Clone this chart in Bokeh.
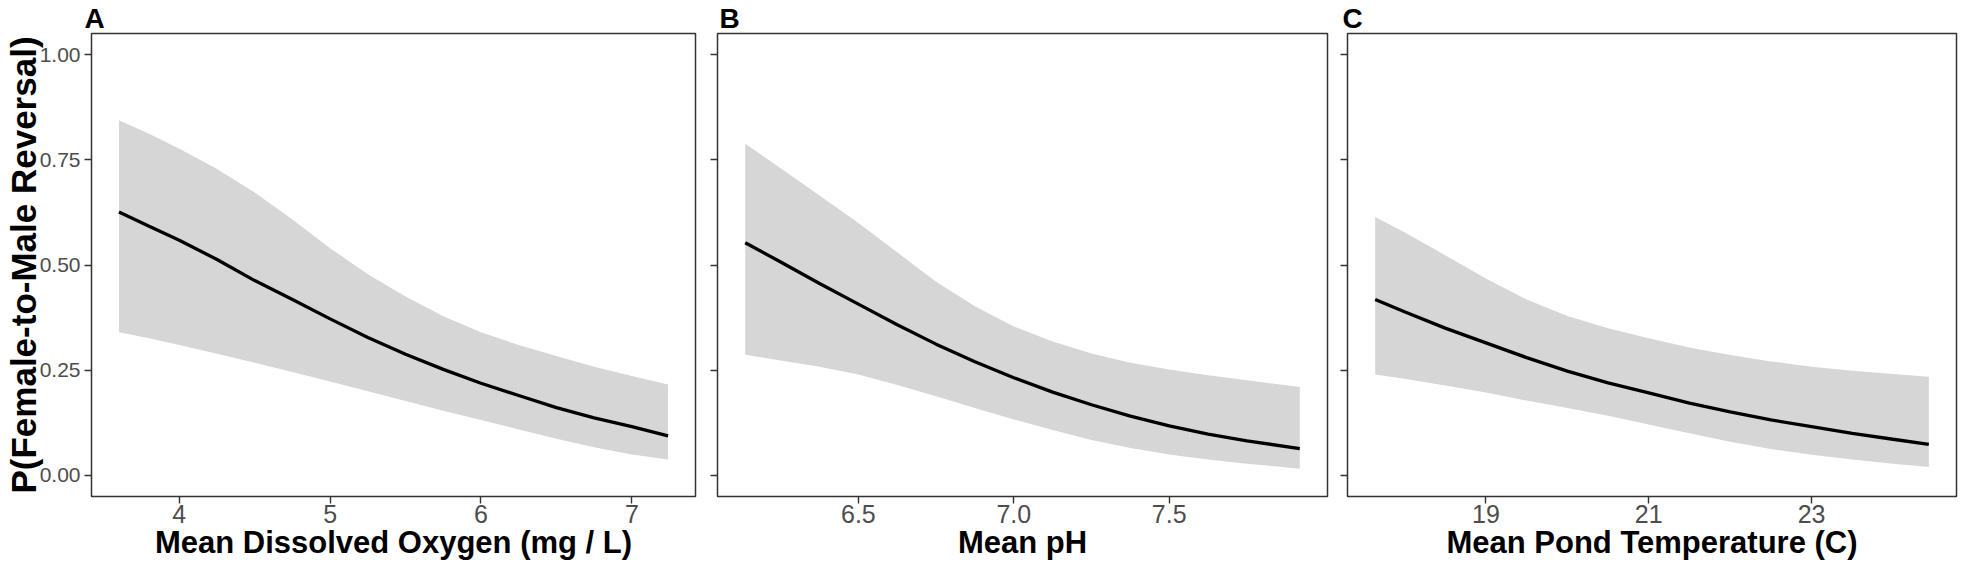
from bokeh.plotting import figure
from bokeh.layouts import row
from bokeh.models import FixedTicker, Range1d, NumeralTickFormatter, CustomJSTickFormatter
from bokeh.embed import file_html
from bokeh.resources import INLINE

# ---------------- data ----------------
y_ticks = [0.0, 0.25, 0.5, 0.75, 1.0]

# Panel A: dissolved oxygen
do_x = [3.60, 3.80, 4.00, 4.25, 4.50, 4.75, 5.00, 5.25, 5.50, 5.75, 6.00, 6.25, 6.50, 6.75, 7.00, 7.24]
do_fit = [0.626, 0.592, 0.559, 0.513, 0.463, 0.418, 0.372, 0.328, 0.288, 0.252, 0.219, 0.190, 0.161, 0.137, 0.116, 0.094]
do_hi = [0.844, 0.812, 0.776, 0.728, 0.672, 0.608, 0.540, 0.478, 0.425, 0.378, 0.340, 0.310, 0.284, 0.258, 0.236, 0.216]
do_lo = [0.340, 0.326, 0.310, 0.289, 0.268, 0.246, 0.223, 0.200, 0.177, 0.154, 0.132, 0.109, 0.087, 0.067, 0.050, 0.038]
do_ticks = [4, 5, 6, 7]

# Panel B: pH
ph_x = [6.136, 6.25, 6.375, 6.5, 6.625, 6.75, 6.875, 7.0, 7.125, 7.25, 7.375, 7.5, 7.625, 7.75, 7.92]
ph_fit = [0.553, 0.507, 0.456, 0.407, 0.358, 0.312, 0.270, 0.232, 0.198, 0.168, 0.141, 0.118, 0.098, 0.082, 0.064]
ph_hi = [0.788, 0.730, 0.665, 0.600, 0.530, 0.460, 0.402, 0.354, 0.318, 0.290, 0.268, 0.252, 0.238, 0.226, 0.210]
ph_lo = [0.287, 0.273, 0.258, 0.240, 0.215, 0.188, 0.160, 0.133, 0.108, 0.084, 0.065, 0.050, 0.038, 0.028, 0.016]
ph_ticks = [6.5, 7.0, 7.5]

# Panel C: pond temperature
tp_x = [17.64, 18.0, 18.5, 19.0, 19.5, 20.0, 20.5, 21.0, 21.5, 22.0, 22.5, 23.0, 23.5, 24.0, 24.44]
tp_fit = [0.418, 0.389, 0.350, 0.315, 0.280, 0.248, 0.220, 0.196, 0.172, 0.151, 0.132, 0.116, 0.100, 0.086, 0.074]
tp_hi = [0.614, 0.578, 0.523, 0.468, 0.418, 0.379, 0.350, 0.326, 0.304, 0.286, 0.271, 0.258, 0.249, 0.241, 0.2345]
tp_lo = [0.240, 0.230, 0.214, 0.197, 0.178, 0.160, 0.142, 0.121, 0.100, 0.080, 0.063, 0.049, 0.038, 0.028, 0.020]
tp_ticks = [19, 21, 23]

y_title = "P(Female-to-Male Reversal)"
x_titles = ["Mean Dissolved Oxygen (mg / L)", "Mean pH", "Mean Pond Temperature (C)"]
letters = ["A", "B", "C"]

# ---------------- styling / layout ----------------
FONT = "Liberation Sans"
H = 570
TOP = 32
FH = 464
BOTTOM = H - TOP - FH


def make_panel(x, fit, lo, hi, xticks, letter, letter_dx, xtitle, lb, fw, rb,
               ylabels, xfmt=None, ytitle=None):
    pad = 0.05 * (max(x) - min(x))
    xr = Range1d(min(x) - pad, max(x) + pad)
    ypad = 0.05 * (max(y_ticks) - min(y_ticks))
    yr = Range1d(min(y_ticks) - ypad, max(y_ticks) + ypad)
    p = figure(width=lb + fw + rb, height=H, x_range=xr, y_range=yr,
               output_backend="svg", toolbar_location=None, title=letter,
               min_border_left=lb, min_border_right=rb,
               min_border_top=TOP, min_border_bottom=BOTTOM)
    p.background_fill_color = "white"
    p.border_fill_color = "white"
    p.outline_line_color = "#333333"
    p.outline_line_width = 1.5
    p.xgrid.visible = False
    p.ygrid.visible = False

    p.title.text_font = FONT
    p.title.text_font_size = "28px"
    p.title.text_font_style = "bold"
    p.title.text_color = "black"
    p.title.align = "left"
    p.title.offset = letter_dx
    p.title.standoff = 0

    p.varea(x=x, y1=lo, y2=hi, fill_color="#D6D6D6", fill_alpha=1.0)
    p.line(x=x, y=fit, line_color="black", line_width=3.3)

    for ax in (p.xaxis[0], p.yaxis[0]):
        ax.axis_line_color = None
        ax.major_tick_line_color = "#333333"
        ax.major_tick_line_width = 1.4
        ax.major_tick_out = 7
        ax.major_tick_in = 0
        ax.minor_tick_line_color = None
        ax.major_label_text_color = "#4D4D4D"
        ax.major_label_text_font = FONT
        ax.axis_label_text_font = FONT
        ax.axis_label_text_font_style = "bold"
        ax.axis_label_text_color = "black"

    p.xaxis.ticker = FixedTicker(ticks=xticks)
    p.xaxis.major_label_text_font_size = "25px"
    p.xaxis.major_label_standoff = 1
    p.xaxis.axis_label = xtitle
    p.xaxis.axis_label_text_font_size = "31px"
    p.xaxis.axis_label_standoff = -1
    if xfmt is not None:
        p.xaxis.formatter = NumeralTickFormatter(format=xfmt)

    p.yaxis.ticker = FixedTicker(ticks=y_ticks)
    p.yaxis.major_label_text_font_size = "21px"
    p.yaxis.major_label_standoff = 4
    if ylabels:
        p.yaxis.formatter = NumeralTickFormatter(format="0.00")
    else:
        p.yaxis.formatter = CustomJSTickFormatter(code="return ''")
    if ytitle:
        p.yaxis.axis_label = ytitle
        p.yaxis.axis_label_text_font_size = "35px"
        p.yaxis.axis_label_standoff = -6
    return p


pA = make_panel(do_x, do_fit, do_lo, do_hi, do_ticks, letters[0], -7, x_titles[0],
                lb=86, fw=609, rb=7, ylabels=True, ytitle=y_title)
pB = make_panel(ph_x, ph_fit, ph_lo, ph_hi, ph_ticks, letters[1], 2, x_titles[1],
                lb=15, fw=610, rb=5, ylabels=False, xfmt="0.0")
pC = make_panel(tp_x, tp_fit, tp_lo, tp_hi, tp_ticks, letters[2], -5, x_titles[2],
                lb=15, fw=609, rb=5, ylabels=False)

layout = row(pA, pB, pC, spacing=0)
open("out.html", "w").write(file_html(layout, INLINE))
